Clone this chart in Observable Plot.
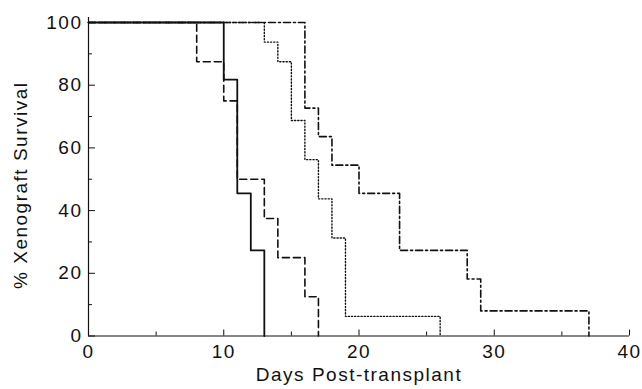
<!DOCTYPE html>
<html><head><meta charset="utf-8">
<script src="https://cdn.jsdelivr.net/npm/d3@7"></script>
<script src="https://cdn.jsdelivr.net/npm/@observablehq/plot@0.6"></script>
<style>
html,body{margin:0;padding:0;background:#fff;}
#chart svg text{letter-spacing:1.5px;}
</style></head><body><div id="chart"></div>
<script>
// Kaplan-Meier style step curves: day of each step and survival (%) after it
const solidDays   = [0, 10, 11, 12, 13];
const solidSurv   = [100, 81.8, 45.5, 27.3, 0];
const dashedDays  = [0, 8, 10, 11, 13, 14, 16, 17];
const dashedSurv  = [100, 87.5, 75, 50, 37.5, 25, 12.5, 0];
const dottedDays  = [0, 13, 14, 15, 16, 17, 18, 19, 26];
const dottedSurv  = [100, 93.75, 87.5, 68.75, 56.25, 43.75, 31.25, 6.25, 0];
const dashDotDays = [0, 16, 17, 18, 20, 23, 28, 29, 37];
const dashDotSurv = [100, 72.7, 63.6, 54.5, 45.5, 27.3, 18.2, 8, 0];

const xMajorTicks = [0, 10, 20, 30, 40];
const xMinorTicks = [5, 15, 25, 35];
const yMajorTicks = [0, 20, 40, 60, 80, 100];
const yMinorTicks = [10, 30, 50, 70, 90];
const xTitle = "Days Post-transplant";
const yTitle = "% Xenograft Survival";

const rows = (days, surv) => days.map((d, i) => ({day: d, surv: surv[i]}));
const font = "'Liberation Sans', Arial, Helvetica, sans-serif";

const lineOpts = {x: "day", y: "surv", curve: "step-after", stroke: "#111", fill: "none"};

const chart = Plot.plot({
  width: 642,
  height: 389,
  marginLeft: 88,
  marginRight: 13,
  marginTop: 22,
  marginBottom: 53.5,
  style: {fontFamily: font, fontSize: "19px", color: "#111", background: "#fff"},
  x: {domain: [0, 40]},
  y: {domain: [0, 100]},
  marks: [
    Plot.line(rows(dottedDays, dottedSurv), {...lineOpts, strokeWidth: 1.4, strokeDasharray: "1.2,2"}),
    Plot.line(rows(dashDotDays, dashDotSurv), {...lineOpts, strokeWidth: 1.6, strokeDasharray: "7,3,2,3"}),
    Plot.line(rows(dashedDays, dashedSurv), {...lineOpts, strokeWidth: 1.6, strokeDasharray: "7,4"}),
    Plot.line(rows(solidDays, solidSurv), {...lineOpts, strokeWidth: 1.8}),
    Plot.ruleY([0], {stroke: "#111", strokeWidth: 1.2}),
    Plot.ruleX([0], {stroke: "#111", strokeWidth: 1.2, insetTop: -5}),
    Plot.axisX(xMajorTicks, {tickSize: -6, tickPadding: 14, fontSize: 19, label: null, stroke: "#111"}),
    Plot.axisX(xMinorTicks, {tickSize: -4, tickFormat: () => "", label: null, stroke: "#111"}),
    Plot.axisY(yMajorTicks, {tickSize: -7, tickPadding: 13, fontSize: 19, label: null, stroke: "#111"}),
    Plot.axisY(yMinorTicks, {tickSize: -4, tickFormat: () => "", label: null, stroke: "#111"}),
    Plot.text([xTitle], {frameAnchor: "bottom", textAnchor: "middle", dy: 44.5, fontSize: 19, fill: "#111"}),
    Plot.text([yTitle], {frameAnchor: "left", textAnchor: "middle", rotate: -90, dx: -68, dy: 6, fontSize: 19, fill: "#111"})
  ]
});
document.getElementById("chart").appendChild(chart);
</script></body></html>
